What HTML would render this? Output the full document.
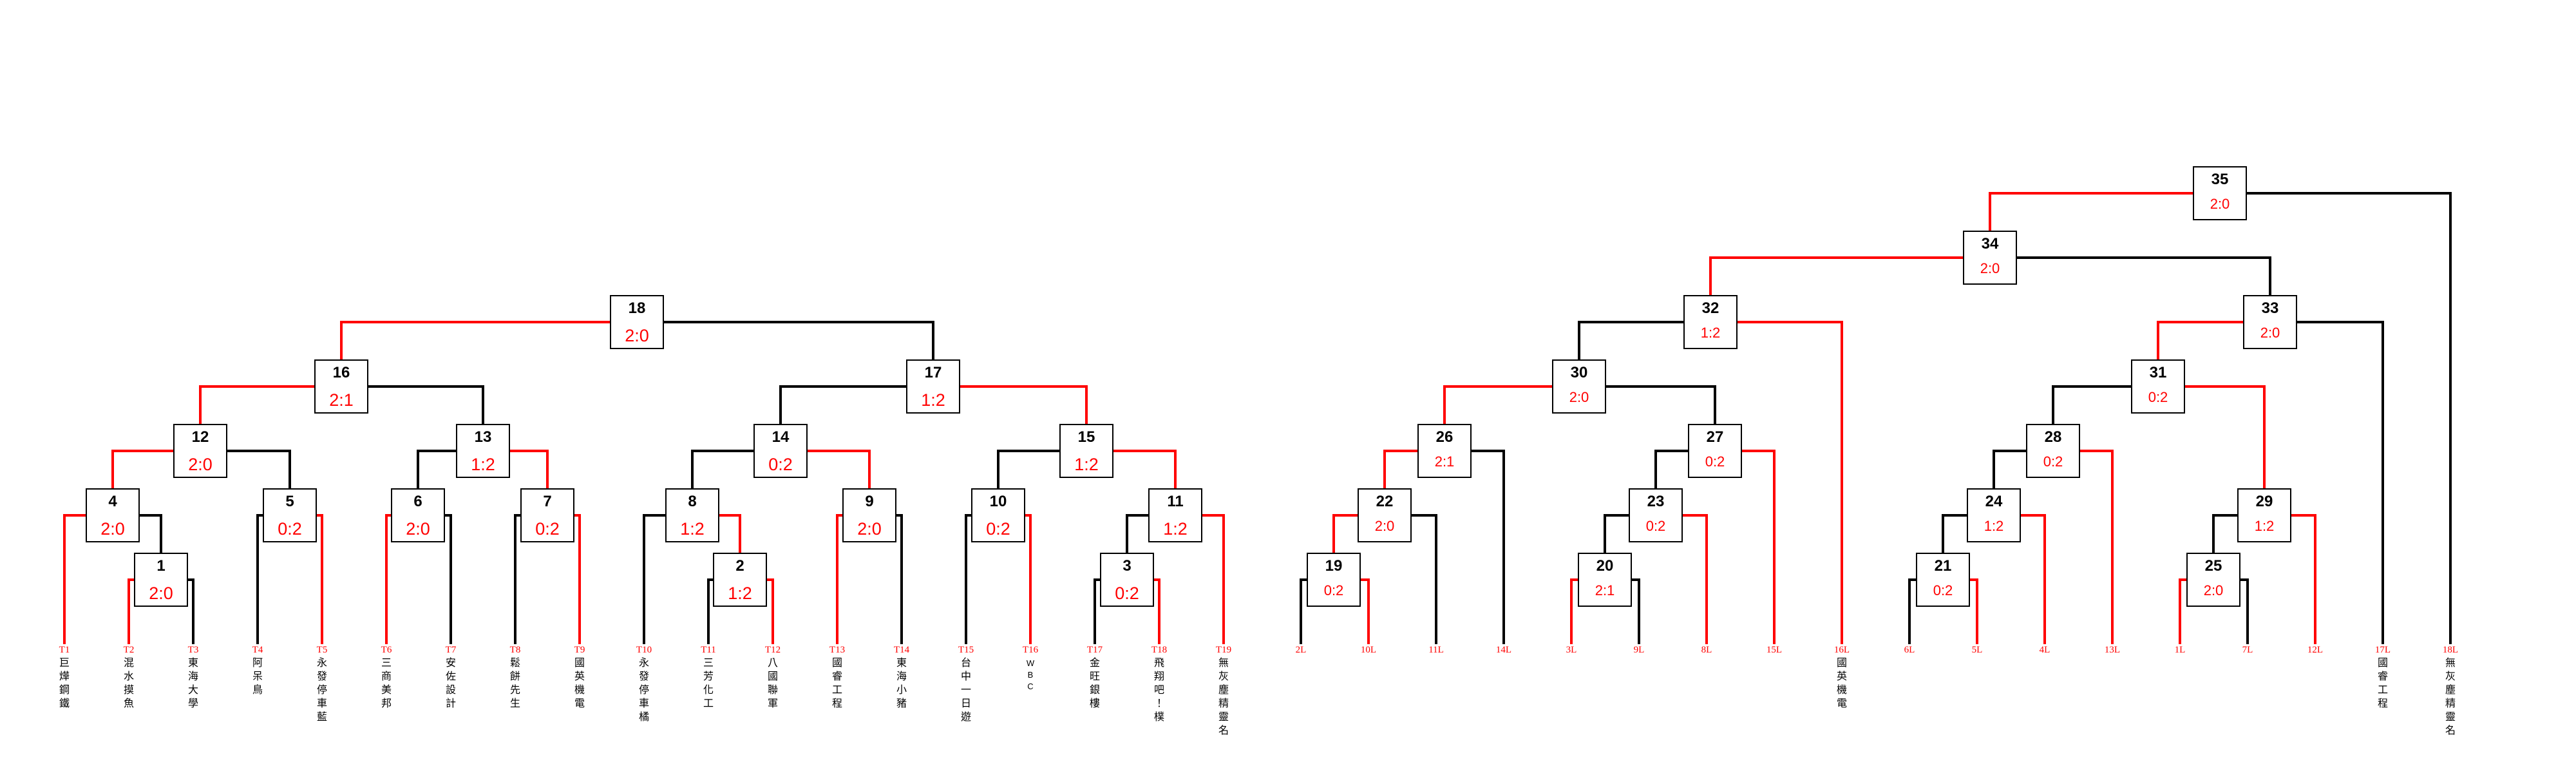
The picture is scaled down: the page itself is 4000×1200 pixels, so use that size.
<!DOCTYPE html>
<html><head><meta charset="utf-8"><style>
html,body{margin:0;padding:0;background:#fff;}
svg{display:block}
.ln{fill:none;stroke-width:4;stroke-linecap:butt;stroke-linejoin:miter}
.r{stroke:#ff0000}.k{stroke:#000}
.bx{fill:#fff;stroke:#000;stroke-width:2}
.n{font-family:"Liberation Sans",sans-serif;font-weight:bold;font-size:24px;fill:#000;text-anchor:middle}
.s{font-family:"Liberation Sans",sans-serif;font-size:27px;fill:#ff0000;text-anchor:middle}
.s2{font-family:"Liberation Sans",sans-serif;font-size:22px;fill:#ff0000;text-anchor:middle}
.t{font-family:"Liberation Serif",serif;font-size:15px;fill:#ff0000;text-anchor:middle}
.nm{font-family:"Liberation Sans","Noto Sans CJK TC",sans-serif;font-size:16px;fill:#000;text-anchor:middle}
</style></head><body>
<svg width="4000" height="1200" xmlns="http://www.w3.org/2000/svg">
<g class="ln">
<path class="r" d="M948,500 H530 V559"/><path class="k" d="M1030,500 H1449 V559"/>
<path class="r" d="M489,600 H311 V659"/><path class="k" d="M571,600 H750 V659"/>
<path class="k" d="M1408,600 H1212 V659"/><path class="r" d="M1490,600 H1687 V659"/>
<path class="r" d="M270,700 H175 V759"/><path class="k" d="M352,700 H450 V759"/>
<path class="k" d="M709,700 H649 V759"/><path class="r" d="M791,700 H850 V759"/>
<path class="k" d="M1171,700 H1075 V759"/><path class="r" d="M1253,700 H1350 V759"/>
<path class="k" d="M1646,700 H1550 V759"/><path class="r" d="M1728,700 H1825 V759"/>
<path class="r" d="M134,800 H100 V1000"/><path class="k" d="M216,800 H250 V859"/>
<path class="k" d="M409,800 H400 V1000"/><path class="r" d="M491,800 H500 V1000"/>
<path class="r" d="M608,800 H600 V1000"/><path class="k" d="M690,800 H700 V1000"/>
<path class="k" d="M809,800 H800 V1000"/><path class="r" d="M891,800 H900 V1000"/>
<path class="k" d="M1034,800 H1000 V1000"/><path class="r" d="M1116,800 H1149 V859"/>
<path class="r" d="M1309,800 H1300 V1000"/><path class="k" d="M1391,800 H1400 V1000"/>
<path class="k" d="M1509,800 H1500 V1000"/><path class="r" d="M1591,800 H1600 V1000"/>
<path class="k" d="M1784,800 H1750 V859"/><path class="r" d="M1866,800 H1900 V1000"/>
<path class="r" d="M209,900 H200 V1000"/><path class="k" d="M291,900 H300 V1000"/>
<path class="k" d="M1108,900 H1100 V1000"/><path class="r" d="M1190,900 H1200 V1000"/>
<path class="k" d="M1709,900 H1700 V1000"/><path class="r" d="M1791,900 H1800 V1000"/>

<path class="r" d="M3406,300 H3090 V359"/><path class="k" d="M3488,300 H3805 V1000"/>
<path class="r" d="M3049,400 H2656 V459"/><path class="k" d="M3131,400 H3525 V459"/>
<path class="k" d="M2615,500 H2452 V559"/><path class="r" d="M2697,500 H2860 V1000"/>
<path class="r" d="M3484,500 H3351 V559"/><path class="k" d="M3566,500 H3700 V1000"/>
<path class="r" d="M2411,600 H2243 V659"/><path class="k" d="M2493,600 H2663 V659"/>
<path class="k" d="M3310,600 H3188 V659"/><path class="r" d="M3392,600 H3516 V759"/>
<path class="r" d="M2202,700 H2150 V759"/><path class="k" d="M2284,700 H2335 V1000"/>
<path class="k" d="M2622,700 H2571 V759"/><path class="r" d="M2704,700 H2755 V1000"/>
<path class="k" d="M3147,700 H3096 V759"/><path class="r" d="M3229,700 H3280 V1000"/>
<path class="r" d="M2109,800 H2071 V859"/><path class="k" d="M2191,800 H2230 V1000"/>
<path class="k" d="M2530,800 H2492 V859"/><path class="r" d="M2612,800 H2650 V1000"/>
<path class="k" d="M3055,800 H3017 V859"/><path class="r" d="M3137,800 H3175 V1000"/>
<path class="k" d="M3475,800 H3437 V859"/><path class="r" d="M3557,800 H3595 V1000"/>
<path class="k" d="M2030,900 H2020 V1000"/><path class="r" d="M2112,900 H2125 V1000"/>
<path class="r" d="M2451,900 H2440 V1000"/><path class="k" d="M2533,900 H2545 V1000"/>
<path class="k" d="M2976,900 H2965 V1000"/><path class="r" d="M3058,900 H3070 V1000"/>
<path class="r" d="M3396,900 H3385 V1000"/><path class="k" d="M3478,900 H3490 V1000"/>
</g>

<!-- left boxes -->
<g>
<rect class="bx" x="948" y="459" width="82" height="82"/><text class="n" x="989" y="486">18</text><text class="s" x="989" y="530">2:0</text>
<rect class="bx" x="489" y="559" width="82" height="82"/><text class="n" x="530" y="586">16</text><text class="s" x="530" y="630">2:1</text>
<rect class="bx" x="1408" y="559" width="82" height="82"/><text class="n" x="1449" y="586">17</text><text class="s" x="1449" y="630">1:2</text>
<rect class="bx" x="270" y="659" width="82" height="82"/><text class="n" x="311" y="686">12</text><text class="s" x="311" y="730">2:0</text>
<rect class="bx" x="709" y="659" width="82" height="82"/><text class="n" x="750" y="686">13</text><text class="s" x="750" y="730">1:2</text>
<rect class="bx" x="1171" y="659" width="82" height="82"/><text class="n" x="1212" y="686">14</text><text class="s" x="1212" y="730">0:2</text>
<rect class="bx" x="1646" y="659" width="82" height="82"/><text class="n" x="1687" y="686">15</text><text class="s" x="1687" y="730">1:2</text>
<rect class="bx" x="134" y="759" width="82" height="82"/><text class="n" x="175" y="786">4</text><text class="s" x="175" y="830">2:0</text>
<rect class="bx" x="409" y="759" width="82" height="82"/><text class="n" x="450" y="786">5</text><text class="s" x="450" y="830">0:2</text>
<rect class="bx" x="608" y="759" width="82" height="82"/><text class="n" x="649" y="786">6</text><text class="s" x="649" y="830">2:0</text>
<rect class="bx" x="809" y="759" width="82" height="82"/><text class="n" x="850" y="786">7</text><text class="s" x="850" y="830">0:2</text>
<rect class="bx" x="1034" y="759" width="82" height="82"/><text class="n" x="1075" y="786">8</text><text class="s" x="1075" y="830">1:2</text>
<rect class="bx" x="1309" y="759" width="82" height="82"/><text class="n" x="1350" y="786">9</text><text class="s" x="1350" y="830">2:0</text>
<rect class="bx" x="1509" y="759" width="82" height="82"/><text class="n" x="1550" y="786">10</text><text class="s" x="1550" y="830">0:2</text>
<rect class="bx" x="1784" y="759" width="82" height="82"/><text class="n" x="1825" y="786">11</text><text class="s" x="1825" y="830">1:2</text>
<rect class="bx" x="209" y="859" width="82" height="82"/><text class="n" x="250" y="886">1</text><text class="s" x="250" y="930">2:0</text>
<rect class="bx" x="1108" y="859" width="82" height="82"/><text class="n" x="1149" y="886">2</text><text class="s" x="1149" y="930">1:2</text>
<rect class="bx" x="1709" y="859" width="82" height="82"/><text class="n" x="1750" y="886">3</text><text class="s" x="1750" y="930">0:2</text>
</g>

<!-- right boxes -->
<g>
<rect class="bx" x="3406" y="259" width="82" height="82"/><text class="n" x="3447" y="286">35</text><text class="s2" x="3447" y="324">2:0</text>
<rect class="bx" x="3049" y="359" width="82" height="82"/><text class="n" x="3090" y="386">34</text><text class="s2" x="3090" y="424">2:0</text>
<rect class="bx" x="2615" y="459" width="82" height="82"/><text class="n" x="2656" y="486">32</text><text class="s2" x="2656" y="524">1:2</text>
<rect class="bx" x="3484" y="459" width="82" height="82"/><text class="n" x="3525" y="486">33</text><text class="s2" x="3525" y="524">2:0</text>
<rect class="bx" x="2411" y="559" width="82" height="82"/><text class="n" x="2452" y="586">30</text><text class="s2" x="2452" y="624">2:0</text>
<rect class="bx" x="3310" y="559" width="82" height="82"/><text class="n" x="3351" y="586">31</text><text class="s2" x="3351" y="624">0:2</text>
<rect class="bx" x="2202" y="659" width="82" height="82"/><text class="n" x="2243" y="686">26</text><text class="s2" x="2243" y="724">2:1</text>
<rect class="bx" x="2622" y="659" width="82" height="82"/><text class="n" x="2663" y="686">27</text><text class="s2" x="2663" y="724">0:2</text>
<rect class="bx" x="3147" y="659" width="82" height="82"/><text class="n" x="3188" y="686">28</text><text class="s2" x="3188" y="724">0:2</text>
<rect class="bx" x="2109" y="759" width="82" height="82"/><text class="n" x="2150" y="786">22</text><text class="s2" x="2150" y="824">2:0</text>
<rect class="bx" x="2530" y="759" width="82" height="82"/><text class="n" x="2571" y="786">23</text><text class="s2" x="2571" y="824">0:2</text>
<rect class="bx" x="3055" y="759" width="82" height="82"/><text class="n" x="3096" y="786">24</text><text class="s2" x="3096" y="824">1:2</text>
<rect class="bx" x="3475" y="759" width="82" height="82"/><text class="n" x="3516" y="786">29</text><text class="s2" x="3516" y="824">1:2</text>
<rect class="bx" x="2030" y="859" width="82" height="82"/><text class="n" x="2071" y="886">19</text><text class="s2" x="2071" y="924">0:2</text>
<rect class="bx" x="2451" y="859" width="82" height="82"/><text class="n" x="2492" y="886">20</text><text class="s2" x="2492" y="924">2:1</text>
<rect class="bx" x="2976" y="859" width="82" height="82"/><text class="n" x="3017" y="886">21</text><text class="s2" x="3017" y="924">0:2</text>
<rect class="bx" x="3396" y="859" width="82" height="82"/><text class="n" x="3437" y="886">25</text><text class="s2" x="3437" y="924">2:0</text>
</g>

<!-- leaf labels -->
<g>
<text class="t" x="100" y="1013">T1</text><text class="t" x="200" y="1013">T2</text><text class="t" x="300" y="1013">T3</text>
<text class="t" x="400" y="1013">T4</text><text class="t" x="500" y="1013">T5</text><text class="t" x="600" y="1013">T6</text>
<text class="t" x="700" y="1013">T7</text><text class="t" x="800" y="1013">T8</text><text class="t" x="900" y="1013">T9</text>
<text class="t" x="1000" y="1013">T10</text><text class="t" x="1100" y="1013">T11</text><text class="t" x="1200" y="1013">T12</text>
<text class="t" x="1300" y="1013">T13</text><text class="t" x="1400" y="1013">T14</text><text class="t" x="1500" y="1013">T15</text>
<text class="t" x="1600" y="1013">T16</text><text class="t" x="1700" y="1013">T17</text><text class="t" x="1800" y="1013">T18</text>
<text class="t" x="1900" y="1013">T19</text>
<text class="t" x="2020" y="1013">2L</text><text class="t" x="2125" y="1013">10L</text><text class="t" x="2230" y="1013">11L</text>
<text class="t" x="2335" y="1013">14L</text><text class="t" x="2440" y="1013">3L</text><text class="t" x="2545" y="1013">9L</text>
<text class="t" x="2650" y="1013">8L</text><text class="t" x="2755" y="1013">15L</text><text class="t" x="2860" y="1013">16L</text>
<text class="t" x="2965" y="1013">6L</text><text class="t" x="3070" y="1013">5L</text><text class="t" x="3175" y="1013">4L</text>
<text class="t" x="3280" y="1013">13L</text><text class="t" x="3385" y="1013">1L</text><text class="t" x="3490" y="1013">7L</text>
<text class="t" x="3595" y="1013">12L</text><text class="t" x="3700" y="1013">17L</text><text class="t" x="3805" y="1013">18L</text>
</g>

<!-- names -->
<g class="nm">
<text class="nm" y="1034"><tspan x="100">巨</tspan><tspan x="100" dy="21">燁</tspan><tspan x="100" dy="21">鋼</tspan><tspan x="100" dy="21">鐵</tspan></text>
<text class="nm" y="1034"><tspan x="200">混</tspan><tspan x="200" dy="21">水</tspan><tspan x="200" dy="21">摸</tspan><tspan x="200" dy="21">魚</tspan></text>
<text class="nm" y="1034"><tspan x="300">東</tspan><tspan x="300" dy="21">海</tspan><tspan x="300" dy="21">大</tspan><tspan x="300" dy="21">學</tspan></text>
<text class="nm" y="1034"><tspan x="400">阿</tspan><tspan x="400" dy="21">呆</tspan><tspan x="400" dy="21">鳥</tspan></text>
<text class="nm" y="1034"><tspan x="500">永</tspan><tspan x="500" dy="21">發</tspan><tspan x="500" dy="21">停</tspan><tspan x="500" dy="21">車</tspan><tspan x="500" dy="21">藍</tspan></text>
<text class="nm" y="1034"><tspan x="600">三</tspan><tspan x="600" dy="21">商</tspan><tspan x="600" dy="21">美</tspan><tspan x="600" dy="21">邦</tspan></text>
<text class="nm" y="1034"><tspan x="700">安</tspan><tspan x="700" dy="21">佐</tspan><tspan x="700" dy="21">設</tspan><tspan x="700" dy="21">計</tspan></text>
<text class="nm" y="1034"><tspan x="800">鬆</tspan><tspan x="800" dy="21">餅</tspan><tspan x="800" dy="21">先</tspan><tspan x="800" dy="21">生</tspan></text>
<text class="nm" y="1034"><tspan x="900">國</tspan><tspan x="900" dy="21">英</tspan><tspan x="900" dy="21">機</tspan><tspan x="900" dy="21">電</tspan></text>
<text class="nm" y="1034"><tspan x="1000">永</tspan><tspan x="1000" dy="21">發</tspan><tspan x="1000" dy="21">停</tspan><tspan x="1000" dy="21">車</tspan><tspan x="1000" dy="21">橘</tspan></text>
<text class="nm" y="1034"><tspan x="1100">三</tspan><tspan x="1100" dy="21">芳</tspan><tspan x="1100" dy="21">化</tspan><tspan x="1100" dy="21">工</tspan></text>
<text class="nm" y="1034"><tspan x="1200">八</tspan><tspan x="1200" dy="21">國</tspan><tspan x="1200" dy="21">聯</tspan><tspan x="1200" dy="21">軍</tspan></text>
<text class="nm" y="1034"><tspan x="1300">國</tspan><tspan x="1300" dy="21">睿</tspan><tspan x="1300" dy="21">工</tspan><tspan x="1300" dy="21">程</tspan></text>
<text class="nm" y="1034"><tspan x="1400">東</tspan><tspan x="1400" dy="21">海</tspan><tspan x="1400" dy="21">小</tspan><tspan x="1400" dy="21">豬</tspan></text>
<text class="nm" y="1034"><tspan x="1500">台</tspan><tspan x="1500" dy="21">中</tspan><tspan x="1500" dy="21">一</tspan><tspan x="1500" dy="21">日</tspan><tspan x="1500" dy="21">遊</tspan></text>
<text class="nm" y="1034" style="font-size:13px"><tspan x="1600">W</tspan><tspan x="1600" dy="18">B</tspan><tspan x="1600" dy="18">C</tspan></text>
<text class="nm" y="1034"><tspan x="1700">金</tspan><tspan x="1700" dy="21">旺</tspan><tspan x="1700" dy="21">銀</tspan><tspan x="1700" dy="21">樓</tspan></text>
<text class="nm" y="1034"><tspan x="1800">飛</tspan><tspan x="1800" dy="21">翔</tspan><tspan x="1800" dy="21">吧</tspan><tspan x="1800" dy="21">！</tspan><tspan x="1800" dy="21">樸</tspan></text>
<text class="nm" y="1034"><tspan x="1900">無</tspan><tspan x="1900" dy="21">灰</tspan><tspan x="1900" dy="21">塵</tspan><tspan x="1900" dy="21">精</tspan><tspan x="1900" dy="21">靈</tspan><tspan x="1900" dy="21">名</tspan></text>
<text class="nm" y="1034"><tspan x="2860">國</tspan><tspan x="2860" dy="21">英</tspan><tspan x="2860" dy="21">機</tspan><tspan x="2860" dy="21">電</tspan></text>
<text class="nm" y="1034"><tspan x="3700">國</tspan><tspan x="3700" dy="21">睿</tspan><tspan x="3700" dy="21">工</tspan><tspan x="3700" dy="21">程</tspan></text>
<text class="nm" y="1034"><tspan x="3805">無</tspan><tspan x="3805" dy="21">灰</tspan><tspan x="3805" dy="21">塵</tspan><tspan x="3805" dy="21">精</tspan><tspan x="3805" dy="21">靈</tspan><tspan x="3805" dy="21">名</tspan></text>
</g>
</svg>
</body></html>
